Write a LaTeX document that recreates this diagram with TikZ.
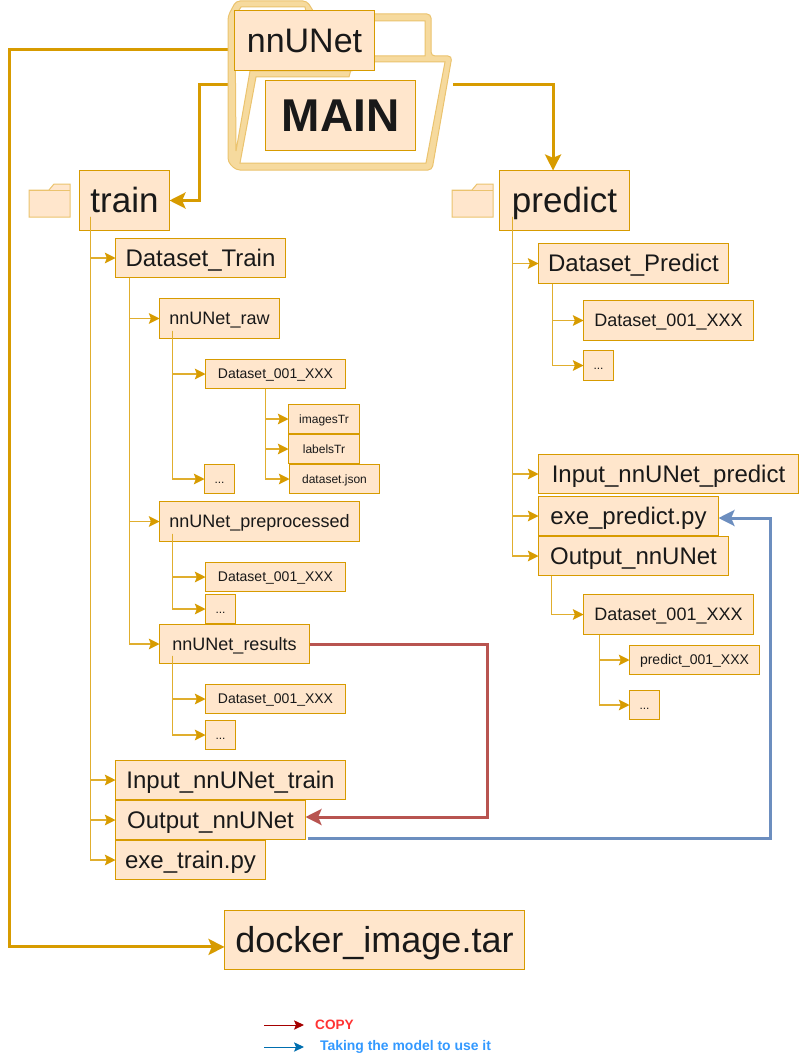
\documentclass[tikz,border=0pt]{standalone}
\usepackage{fontspec}
\setmainfont{Liberation Sans}
\usetikzlibrary{arrows.meta}
\definecolor{boxfill}{HTML}{FFE6CC}
\definecolor{boxline}{HTML}{D79B00}
\definecolor{treeline}{HTML}{E0AE2E}
\definecolor{bandfill}{HTML}{F6DA9E}
\definecolor{bandline}{HTML}{EBC36E}
\definecolor{redline}{HTML}{B85450}
\definecolor{blueline}{HTML}{6C8EBF}
\pgfdeclarelayer{conn}
\pgfdeclarelayer{folder}
\pgfsetlayers{conn,folder,main}
\tikzset{
  box/.style={draw=boxline,fill=boxfill,line width=.75pt,inner sep=0pt,outer sep=0pt,text=black!90,align=center},
  tree/.style={draw=treeline,line width=.9pt,-{Stealth[length=8pt,width=8pt,inset=1.5pt,color=boxline]}},
  thick line/.style={draw=boxline,line width=2.25pt,-{Stealth[length=12pt,width=12pt,inset=2.5pt]}},
  copyline/.style={draw=redline,line width=2.25pt,-{Stealth[length=12pt,width=12pt,inset=2.5pt]}},
  modelline/.style={draw=blueline,line width=2.25pt,-{Stealth[length=12pt,width=12pt,inset=2.5pt]}},
  small folder/.style={draw=bandline,fill=boxfill,line width=.75pt},
  legend text/.style={inner sep=0pt,font=\bfseries}
}
\newcommand{\bx}[7]{%
  \pgfmathsetmacro\fsz{#6*0.75}%
  \pgfmathsetmacro\fht{#6*0.75*0.75}%
  \pgfmathsetmacro\fdp{#6*0.75*0.05}%
  \node[box,minimum width={(#4-#2-1)*0.75pt},minimum height={(#5-#3-1)*0.75pt}] (#1) at ({(#2+#4)/2},{(#3+#5)/2}) {\fontsize{\fsz}{\fsz}\selectfont\raisebox{0pt}[\fht pt][\fdp pt]{#7}};}
\newcommand{\smallfolder}[2]{%
  \draw[small folder,shift={(#1,#2)}] (0,33) -- (0,6) -- (20,6) -- (25,0) -- (41,0) -- (41,33) -- cycle;
  \draw[small folder,shift={(#1,#2)}] (0,6) -- (41,6);}
\begin{document}
\begin{tikzpicture}[x=0.75pt,y=-0.75pt]
\useasboundingbox (0,0) rectangle (799,1063);

% folder
\begin{pgfonlayer}{folder}
\fill[white] (228,160) -- (228,16) -- (236,1) -- (307,1) -- (315,14) -- (431,14) -- (431,56) -- (452,56) -- (432,170) -- (236,170) -- cycle;
\path[fill=bandfill,even odd rule,draw=bandline,line width=.75pt,rounded corners=3pt]
  (228,162) -- (228,16) -- (236,1) -- (307,1) -- (315,14) -- (431,14) -- (431,56) -- (452,56) -- (432,170) -- (236,170) -- cycle
  [sharp corners]
  (235,16) -- (241,7) -- (305,7) -- (308,21) -- (425,21) -- (425,56) -- (358,56) -- (352,71) -- (250,71) -- (236,151) -- cycle
  (240,163) -- (256,77) -- (349,77) -- (353,62) -- (445,62) -- (426,163) -- cycle;
\end{pgfonlayer}

% small folders
\smallfolder{29}{184}
\smallfolder{452}{184}

% boxes
\bx{nnunet}{234}{10}{375}{71}{34}{nnUNet}
\bx{mainbox}{265}{80}{416}{151}{46}{\bfseries MAIN}
\bx{train}{79}{170}{170}{231}{35}{train}
\bx{predict}{499}{170}{630}{231}{35}{predict}

\bx{dstrain}{115}{238}{286}{278}{24}{Dataset\_Train}
\bx{raw}{159}{298}{280}{339}{18}{nnUNet\_raw}
\bx{rawds}{205}{359}{346}{389}{14}{Dataset\_001\_XXX}
\bx{images}{288}{404}{360}{434}{12}{imagesTr}
\bx{labels}{288}{434}{360}{464}{12}{labelsTr}
\bx{json}{289}{464}{380}{494}{12}{dataset.json}
\bx{rawdots}{204}{464}{235}{494}{12}{...}
\bx{prep}{159}{501}{360}{542}{18}{nnUNet\_preprocessed}
\bx{prepds}{205}{562}{346}{592}{14}{Dataset\_001\_XXX}
\bx{prepdots}{205}{594}{236}{624}{12}{...}
\bx{results}{159}{624}{310}{664}{18}{nnUNet\_results}
\bx{resds}{205}{684}{346}{714}{14}{Dataset\_001\_XXX}
\bx{resdots}{205}{720}{236}{750}{12}{...}
\bx{inputtrain}{115}{760}{346}{800}{24}{Input\_nnUNet\_train}
\bx{outtrain}{115}{800}{306}{840}{24}{Output\_nnUNet}
\bx{exetrain}{115}{840}{266}{880}{24}{exe\_train.py}
\bx{docker}{224}{910}{525}{970}{36}{docker\_image.tar}

\bx{dspred}{538}{243}{729}{284}{24}{Dataset\_Predict}
\bx{predds}{583}{300}{754}{341}{18}{Dataset\_001\_XXX}
\bx{preddots}{583}{350}{614}{381}{12}{...}
\bx{inputpred}{538}{454}{799}{494}{24}{Input\_nnUNet\_predict}
\bx{exepred}{538}{496}{719}{536}{24}{exe\_predict.py}
\bx{outpred}{538}{536}{729}{576}{24}{Output\_nnUNet}
\bx{outds}{583}{594}{754}{635}{18}{Dataset\_001\_XXX}
\bx{predfile}{629}{645}{760}{675}{14}{predict\_001\_XXX}
\bx{outdots}{629}{690}{660}{720}{12}{...}

% legend
\node[legend text] (lcopy) at (334.5,1025) {\color[HTML]{FF3333}\fontsize{10.2}{11}\selectfont\bfseries COPY};
\node[legend text] (lmodel) at (405.5,1047) {\color[HTML]{3399FF}\fontsize{10.45}{12}\selectfont\bfseries Taking the model to use it};
\coordinate (c1a) at (264,1025); \coordinate (c1b) at (304,1025);
\coordinate (c2a) at (264,1047); \coordinate (c2b) at (304,1047);
\draw[-{Stealth[length=7.5pt,width=7pt,inset=1.5pt]},color={rgb,255:red,165;green,0;blue,0},line width=.75pt] (c1a) -- (c1b);
\draw[-{Stealth[length=7.5pt,width=7pt,inset=1.5pt]},color={rgb,255:red,0;green,110;blue,175},line width=.75pt] (c2a) -- (c2b);

% thick connectors (under folder)
\begin{pgfonlayer}{conn}
\coordinate (bendD) at (9,500);
\coordinate (bendT) at (199,150);
\coordinate (bendR) at (487,730);
\coordinate (bendB) at (770,700);
\coordinate (folderE) at (453,85);
\draw[thick line] ([yshift=-7.1pt]nnunet.west) -| (bendD) |- ([yshift=-5.2pt]docker.west);
\draw[thick line] ([yshift=22.9pt]mainbox.west) -| (bendT) |- (train.east);
\draw[thick line] (folderE) -| ([xshift=-8.6pt]predict.north);
\draw[copyline] (results.east) -| (bendR) |- ([yshift=2.25pt]outtrain.east);
\draw[modelline] ([yshift=-13.5pt,xshift=1.5pt]outtrain.east) -| (bendB) |- ([yshift=-1.5pt]exepred.east);
\end{pgfonlayer}

% tree connectors
\foreach \t in {dstrain,inputtrain,outtrain,exetrain}
  \draw[tree] ([xshift=8.25pt,yshift=10.5pt]train.south west) |- (\t.west);
\foreach \t in {raw,prep,results}
  \draw[tree] ([xshift=10.5pt]dstrain.south west) |- (\t.west);
\foreach \t in {rawds,rawdots}
  \draw[tree] ([xshift=9.75pt,yshift=6pt]raw.south west) |- (\t.west);
\foreach \t in {prepds,prepdots}
  \draw[tree] ([xshift=9.75pt,yshift=6pt]prep.south west) |- (\t.west);
\foreach \t in {resds,resdots}
  \draw[tree] ([xshift=9.75pt,yshift=6pt]results.south west) |- (\t.west);
\foreach \t in {images,labels,json}
  \draw[tree] ([xshift=45pt]rawds.south west) |- (\t.west);
\foreach \t in {dspred,inputpred,exepred,outpred}
  \draw[tree] ([xshift=9.75pt,yshift=10.5pt]predict.south west) |- (\t.west);
\foreach \t in {predds,preddots}
  \draw[tree] ([xshift=10.5pt]dspred.south west) |- (\t.west);
\draw[tree] ([xshift=9.75pt]outpred.south west) |- (outds.west);
\foreach \t in {predfile,outdots}
  \draw[tree] ([xshift=12pt]outds.south west) |- (\t.west);
\end{tikzpicture}
\end{document}
